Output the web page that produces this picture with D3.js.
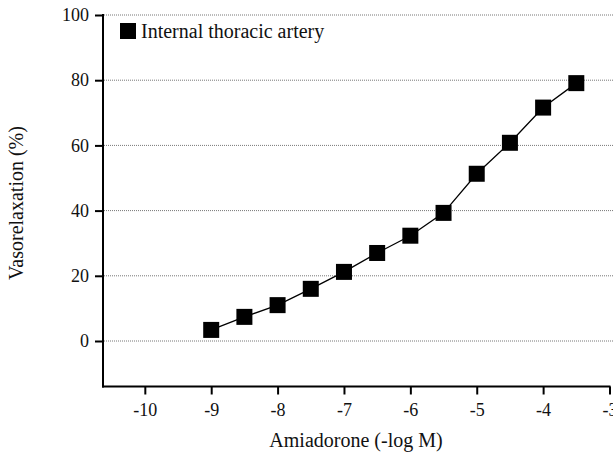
<!DOCTYPE html>
<html><head><meta charset="utf-8">
<script src="https://cdn.jsdelivr.net/npm/d3@7"></script>
<style>body{margin:0;background:#fff}svg{display:block}text{font-family:"Liberation Serif","Times New Roman",serif;fill:#111}</style>
</head><body><svg id="c" width="613" height="453"></svg>
<script>
const xValues = [-9, -8.5, -8, -7.5, -7, -6.5, -6, -5.5, -5, -4.5, -4, -3.5];
const relaxation = [3.4, 7.4, 11, 16, 21.2, 27, 32.3, 39.3, 51.3, 60.8, 71.6, 79.1];
const xTicks = [-10, -9, -8, -7, -6, -5, -4, -3];
const yTicks = [0, 20, 40, 60, 80, 100];
const seriesName = "Internal thoracic artery";

const svg = d3.select("#c");
const x = d3.scaleLinear().domain([-10.63, -3]).range([103, 609.5]);
const y = d3.scaleLinear().domain([0, 100]).range([341, 15]);
const yBottom = 386.5;

// grid
svg.append("g").selectAll("line").data(yTicks).join("line")
  .attr("x1", 104).attr("x2", 613).attr("y1", d => y(d)).attr("y2", d => y(d))
  .attr("stroke", "#777").attr("stroke-width", 1).attr("stroke-dasharray", "1,1");

// y axis
const ya = svg.append("g").attr("transform", "translate(103,0)")
  .call(d3.axisLeft(y).tickValues(yTicks).tickSize(8).tickPadding(6).tickFormat(d => String(d)));
ya.select(".domain").remove();
ya.selectAll(".tick line").attr("stroke", "#000").attr("stroke-width", 2);
ya.selectAll(".tick text").style("font-size", "18px").style("font-family", "Liberation Serif").attr("fill", "#111");
svg.append("line").attr("x1", 103).attr("x2", 103).attr("y1", y(100) - 1).attr("y2", yBottom + 1)
  .attr("stroke", "#000").attr("stroke-width", 2);

// x axis
const xa = svg.append("g").attr("transform", `translate(0,${yBottom})`)
  .call(d3.axisBottom(x).tickValues(xTicks).tickSize(8).tickPadding(9).tickFormat(d => String(d)));
xa.select(".domain").remove();
xa.selectAll(".tick line").attr("stroke", "#000").attr("stroke-width", 2);
xa.selectAll(".tick text").style("font-size", "18px").style("font-family", "Liberation Serif").attr("fill", "#111");
svg.append("line").attr("x1", 102).attr("x2", 610.5).attr("y1", yBottom).attr("y2", yBottom)
  .attr("stroke", "#000").attr("stroke-width", 2);

// line
const data = xValues.map((v, i) => ({x: v, y: relaxation[i]}));
svg.append("path").datum(data)
  .attr("d", d3.line().x(d => x(d.x)).y(d => y(d.y)))
  .attr("fill", "none").attr("stroke", "#000").attr("stroke-width", 1.3);
const s = 16;
svg.append("g").selectAll("rect").data(data).join("rect")
  .attr("x", d => x(d.x) - s / 2).attr("y", d => y(d.y) - s / 2)
  .attr("width", s).attr("height", s).attr("fill", "#000");

// legend
svg.append("rect").attr("x", 120).attr("y", 23).attr("width", 16).attr("height", 16).attr("fill", "#000");
svg.append("text").attr("x", 141).attr("y", 37.5).style("font-size", "20px").text(seriesName);

// titles
svg.append("text").attr("x", 356).attr("y", 447).attr("text-anchor", "middle").style("font-size", "20px")
  .text("Amiadorone (-log M)");
svg.append("text").attr("transform", "translate(23,203) rotate(-90)").attr("text-anchor", "middle")
  .style("font-size", "20px").text("Vasorelaxation (%)");
</script></body></html>
